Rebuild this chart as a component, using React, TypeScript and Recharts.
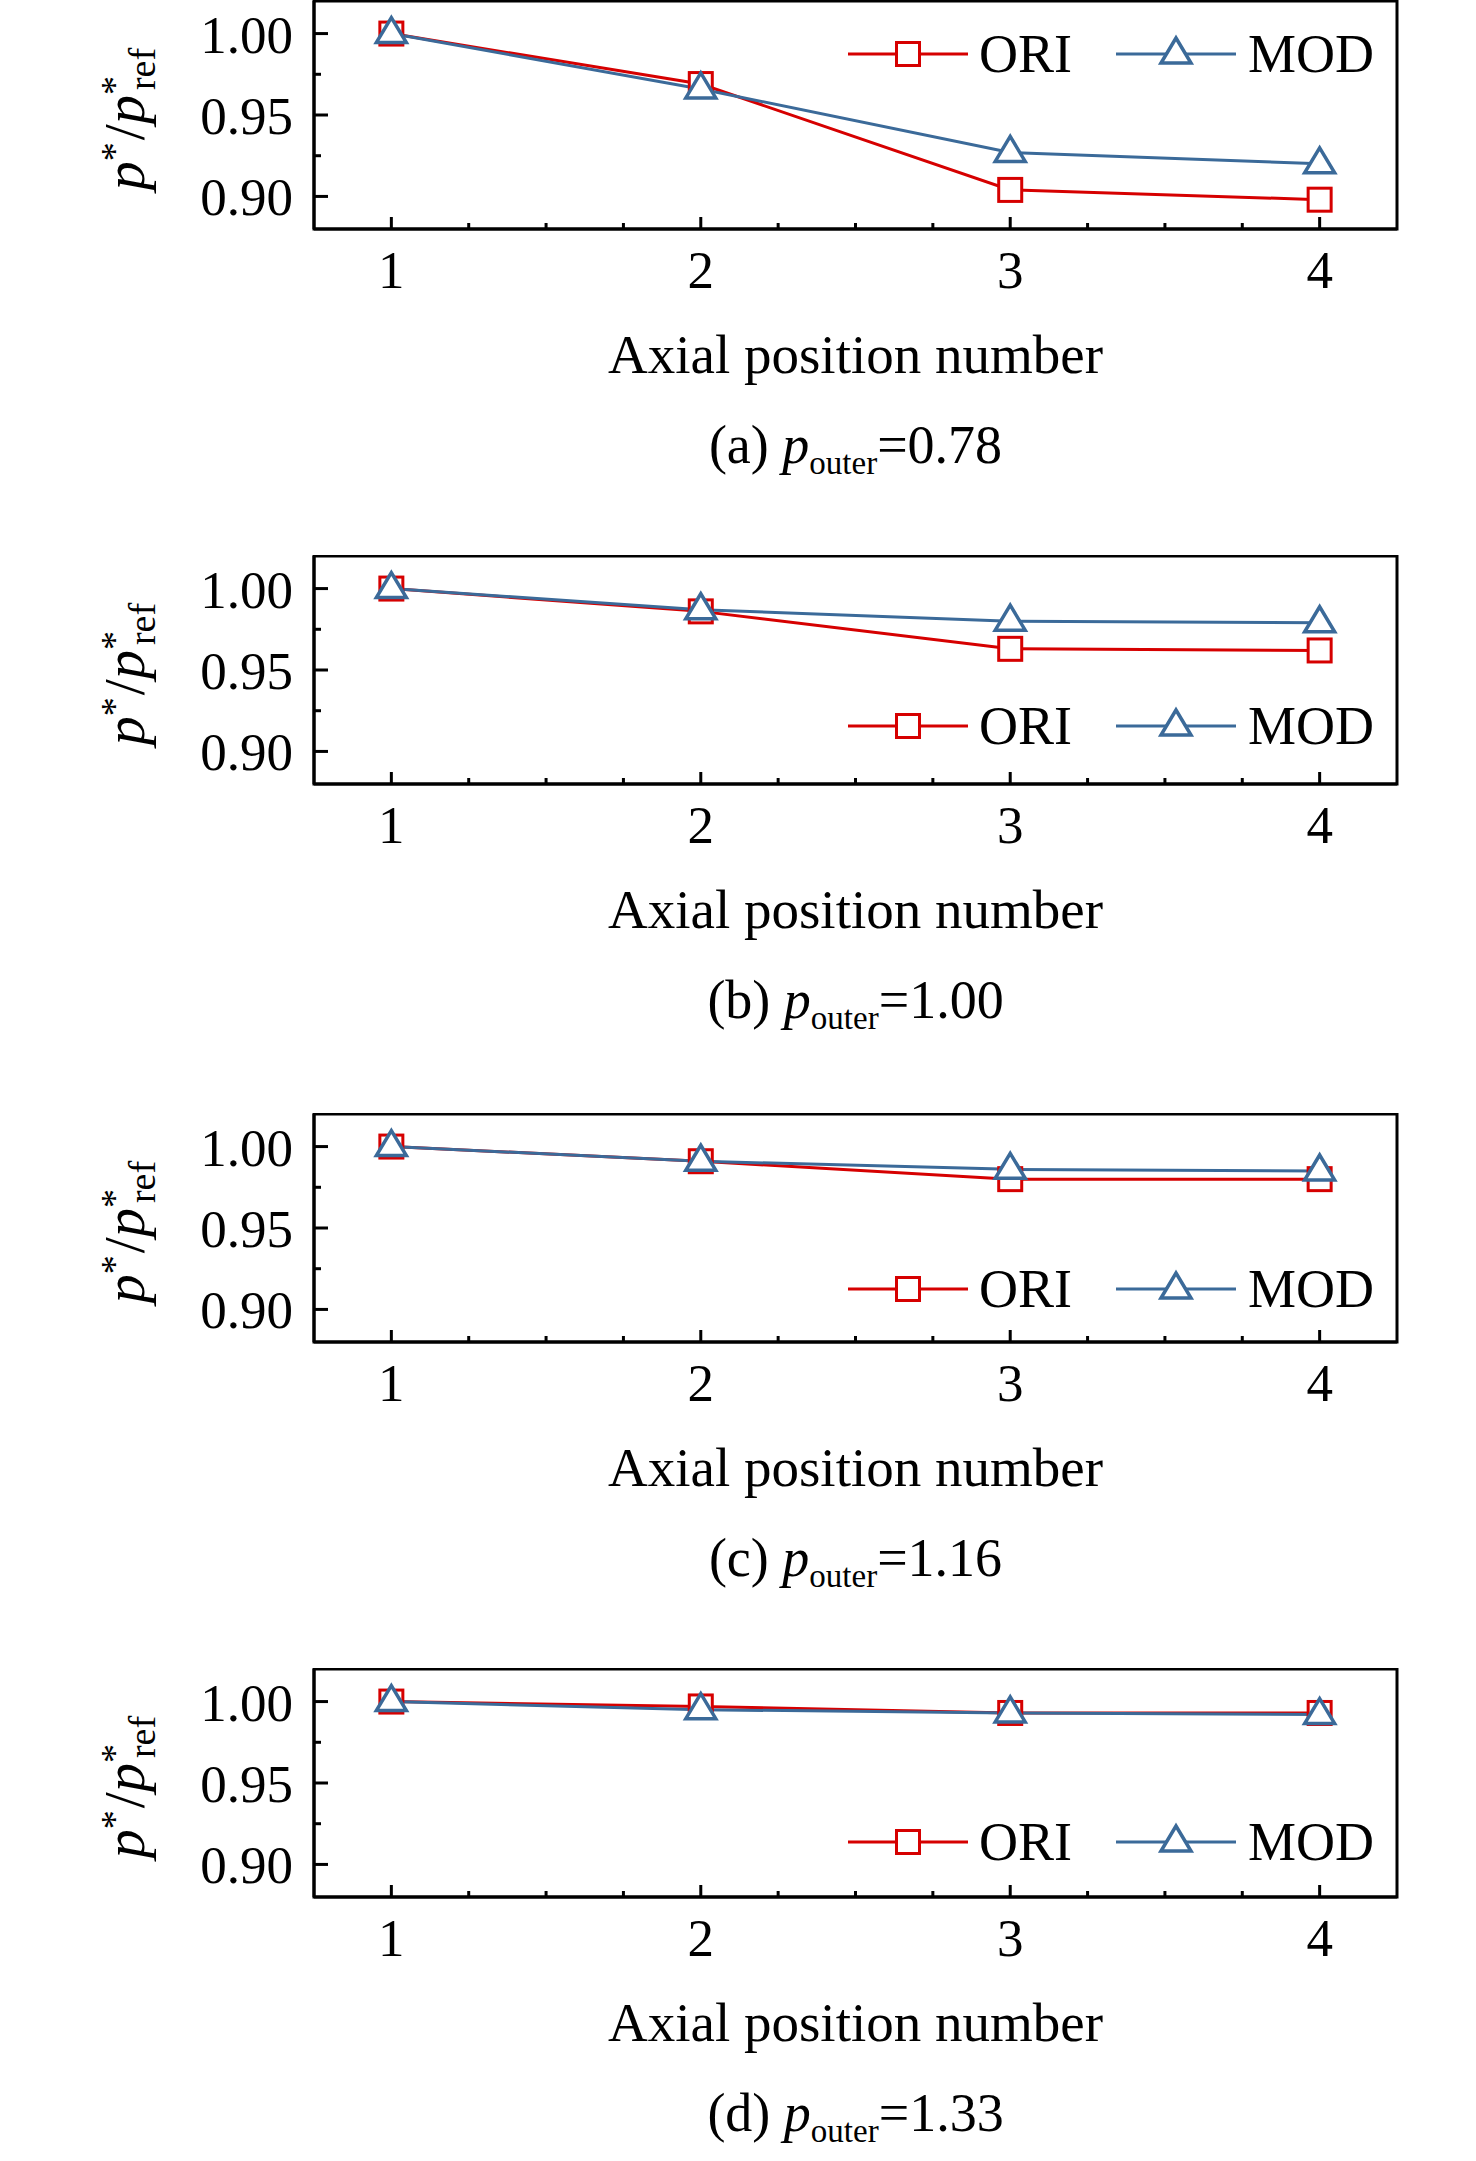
import React from 'react';
import { LineChart, Line, XAxis, YAxis, Legend, ReferenceArea } from 'recharts';

// axial positions and tick values
const positions = [1, 2, 3, 4];
const xTicks = [1, 1.25, 1.5, 1.75, 2, 2.25, 2.5, 2.75, 3, 3.25, 3.5, 3.75, 4];
const yTicks = [0.9, 0.925, 0.95, 0.975, 1.0];
const yMajor = [0.9, 0.95, 1.0];

// p*/p*ref per panel
const oriA = [1.0, 0.969, 0.904, 0.898];
const modA = [1.0, 0.966, 0.927, 0.92];
const oriB = [1.0, 0.986, 0.963, 0.962];
const modB = [1.0, 0.987, 0.98, 0.979];
const oriC = [1.0, 0.991, 0.98, 0.98];
const modC = [1.0, 0.991, 0.986, 0.985];
const oriD = [1.0, 0.997, 0.993, 0.993];
const modD = [1.0, 0.995, 0.993, 0.992];

const panelTags = ['(a)', '(b)', '(c)', '(d)'];
const outerValues = ['0.78', '1.00', '1.16', '1.33'];

const FONT = '"Liberation Serif", "Times New Roman", serif';
const RED = '#d60000';
const BLUE = '#3b6a99';

const PLOT_LEFT = 314;
const PLOT_W = 1083;
const PLOT_TOP = 1;
const PLOT_H = 228;

const XTick = (props: any) => {
  const { x, y, payload } = props;
  const v = payload.value;
  const major = Number.isInteger(v);
  return (
    <g>
      <line x1={x} x2={x} y1={y} y2={y - (major ? 12 : 6)} stroke="#000" strokeWidth={3} />
      {major && (
        <text x={x} y={y + 59} textAnchor="middle" fontSize={53} fontFamily={FONT} fill="#000">
          {v}
        </text>
      )}
    </g>
  );
};

const YTick = (props: any) => {
  const { x, y, payload } = props;
  const v = payload.value;
  const major = yMajor.some((m) => Math.abs(m - v) < 1e-6);
  return (
    <g>
      <line x1={x} x2={x + (major ? 14 : 7)} y1={y} y2={y} stroke="#000" strokeWidth={3} />
      {major && (
        <text x={x - 21} y={y + 19} textAnchor="end" fontSize={53} fontFamily={FONT} fill="#000">
          {v.toFixed(2)}
        </text>
      )}
    </g>
  );
};

const YTitle = () => {
  const x = 144;
  const y = PLOT_TOP + 118;
  return (
    <text transform={`rotate(-90 ${x} ${y})`} x={x} y={y} textAnchor="middle" fontSize={58} fontFamily={FONT} fill="#000">
      <tspan fontStyle="italic">p</tspan>
      <tspan fontSize={38} dy={-17}>*</tspan>
      <tspan dx={2} dy={17}>/</tspan>
      <tspan fontStyle="italic">p</tspan>
      <tspan fontSize={38} dy={-17}>*</tspan>
      <tspan fontSize={38} dx={-14} dy={28}>ref</tspan>
    </text>
  );
};

const XTitle = ({ tag, outer }: { tag: string; outer: string }) => {
  const cx = PLOT_LEFT + PLOT_W / 2;
  const base = PLOT_TOP + PLOT_H;
  return (
    <g fontFamily={FONT} fill="#000">
      <text x={cx} y={base + 144} textAnchor="middle" fontSize={55}>
        Axial position number
      </text>
      <text x={cx} y={base + 234} textAnchor="middle" fontSize={54}>
        <tspan>{tag} </tspan>
        <tspan fontStyle="italic">p</tspan>
        <tspan fontSize={33} dy={11}>outer</tspan>
        <tspan dy={-11}>={outer}</tspan>
      </text>
    </g>
  );
};

const Square = (props: any) => {
  const { cx, cy } = props;
  if (cx == null || cy == null) return <g />;
  return <rect x={cx - 11.5} y={cy - 11.5} width={23} height={23} fill="#fff" stroke={RED} strokeWidth={3} />;
};

const Triangle = (props: any) => {
  const { cx, cy } = props;
  if (cx == null || cy == null) return <g />;
  return (
    <path
      d={`M${cx},${cy - 16} L${cx + 15},${cy + 9} L${cx - 15},${cy + 9} Z`}
      fill="#fff"
      stroke={BLUE}
      strokeWidth={3.5}
      strokeLinejoin="miter"
    />
  );
};

const LegendBox = () => (
  <div style={{ display: 'flex', alignItems: 'center', fontFamily: FONT, fontSize: 54, lineHeight: '60px', color: '#000', whiteSpace: 'nowrap' }}>
    <svg width={120} height={60} style={{ display: 'block' }}>
      <line x1={0} x2={120} y1={30} y2={30} stroke={RED} strokeWidth={3} />
      <rect x={48.5} y={18.5} width={23} height={23} fill="#fff" stroke={RED} strokeWidth={3} />
    </svg>
    <span style={{ marginLeft: 11 }}>ORI</span>
    <svg width={120} height={60} style={{ display: 'block', marginLeft: 44 }}>
      <line x1={0} x2={120} y1={30} y2={30} stroke={BLUE} strokeWidth={3} />
      <path d="M60,14 L75,39 L45,39 Z" fill="#fff" stroke={BLUE} strokeWidth={3.5} />
    </svg>
    <span style={{ marginLeft: 12 }}>MOD</span>
  </div>
);

interface PanelProps {
  top: number;
  ori: number[];
  mod: number[];
  tag: string;
  outer: string;
  legendY: number;
}

const Panel: React.FC<PanelProps> = ({ top, ori, mod, tag, outer, legendY }) => {
  const data = positions.map((pos, i) => ({ pos, ori: ori[i], mod: mod[i] }));
  return (
    <div style={{ position: 'absolute', left: 0, top }}>
      <LineChart width={1476} height={493} data={data} margin={{ top: PLOT_TOP, right: 79, bottom: 0, left: 214 }}>
        <XAxis
          dataKey="pos"
          type="number"
          domain={[0.75, 4.25]}
          ticks={xTicks}
          interval={0}
          tickSize={0}
          tickMargin={0}
          tickLine={false}
          tick={<XTick />}
          axisLine={{ stroke: '#000', strokeWidth: 3 }}
          height={264}
          allowDataOverflow
          label={<XTitle tag={tag} outer={outer} />}
        />
        <YAxis
          type="number"
          domain={[0.88, 1.02]}
          ticks={yTicks}
          interval={0}
          tickSize={0}
          tickMargin={0}
          tickLine={false}
          tick={<YTick />}
          axisLine={{ stroke: '#000', strokeWidth: 3 }}
          width={100}
          allowDataOverflow
          label={<YTitle />}
        />
        <ReferenceArea x1={0.75} x2={4.25} y1={0.88} y2={1.02} fill="none" stroke="#000" strokeWidth={3} />
        <Line dataKey="ori" stroke={RED} strokeWidth={3} dot={<Square />} activeDot={false} isAnimationActive={false} />
        <Line dataKey="mod" stroke={BLUE} strokeWidth={3} dot={<Triangle />} activeDot={false} isAnimationActive={false} />
        <Legend
          verticalAlign="middle"
          align="center"
          layout="horizontal"
          wrapperStyle={{ left: 848, top: legendY - 30, width: 600, height: 60 }}
          content={() => <LegendBox />}
        />
      </LineChart>
    </div>
  );
};

const panelTops = [0, 555, 1113, 1668];
const legendYs = [54, 171, 176, 174];
const oriSets = [oriA, oriB, oriC, oriD];
const modSets = [modA, modB, modC, modD];

export default function App() {
  return (
    <div style={{ position: 'absolute', left: 0, top: 0, width: 1476, height: 2161, overflow: 'hidden', background: '#fff' }}>
      {panelTops.map((top, i) => (
        <Panel
          key={panelTags[i]}
          top={top}
          ori={oriSets[i]}
          mod={modSets[i]}
          tag={panelTags[i]}
          outer={outerValues[i]}
          legendY={legendYs[i]}
        />
      ))}
    </div>
  );
}
